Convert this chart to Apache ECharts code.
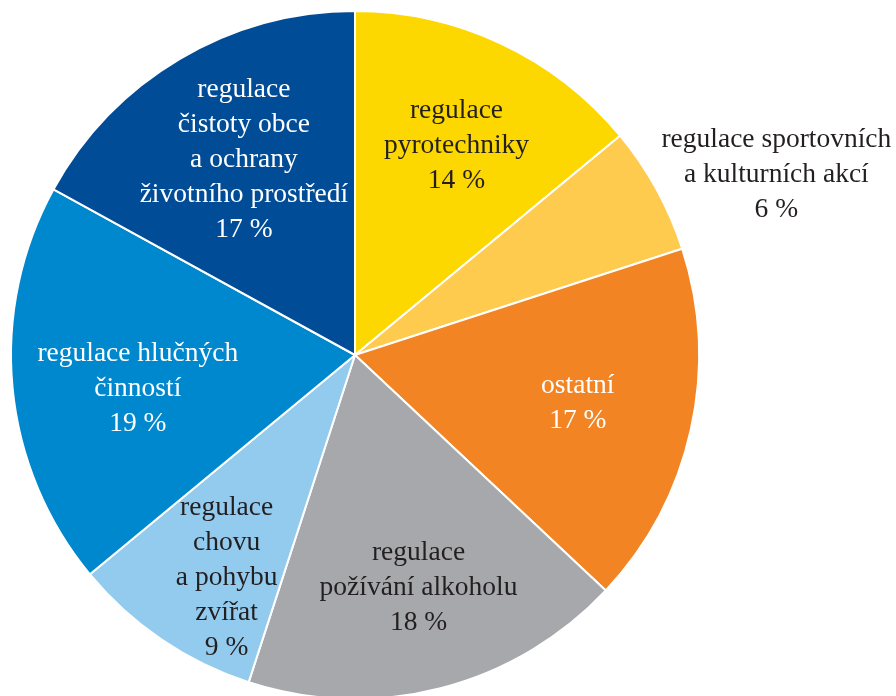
<!DOCTYPE html>
<html>
<head>
<meta charset="utf-8">
<script src="https://cdn.jsdelivr.net/npm/echarts@6/dist/echarts.min.js"></script>
<style>html,body{margin:0;padding:0;background:#fff}#c{width:896px;height:696px}</style>
</head>
<body>
<div id="c"></div>
<script>
const categories = [
  'regulace\npyrotechniky',
  'regulace sportovních\na kulturních akcí',
  'ostatní',
  'regulace\npožívání alkoholu',
  'regulace\nchovu\na pohybu\nzvířat',
  'regulace hlučných\nčinností',
  'regulace\nčistoty obce\na ochrany\nživotního prostředí'
];
const values = [14, 6, 17, 18, 9, 19, 17];

const colors = ['#FDD800', '#FECB4F', '#F28423', '#A7A8AC', '#93CBEE', '#0088CE', '#004C97'];
const labelColors = ['#231F20', '#231F20', '#ffffff', '#231F20', '#231F20', '#ffffff', '#ffffff'];
const labelShift = [[27, -51], [268, -96], [52, 10], [20, 63], [-30, 78], [-43, 17], [-22, -45]];

const chart = echarts.init(document.getElementById('c'), null, {renderer: 'canvas'});
chart.setOption({
  animation: false,
  series: [{
    type: 'pie',
    center: [355, 355],
    radius: [0, 344],
    startAngle: 90,
    clockwise: true,
    avoidLabelOverlap: false,
    itemStyle: {borderColor: '#ffffff', borderWidth: 2},
    label: {
      show: true,
      position: 'inside',
      fontFamily: 'Liberation Serif',
      fontSize: 27.5,
      lineHeight: 35,
      align: 'center',
      formatter: p => p.name + '\n' + p.value + ' %'
    },
    labelLine: {show: false},
    emphasis: {disabled: true},
    labelLayout: p => ({dx: labelShift[p.dataIndex][0], dy: labelShift[p.dataIndex][1], hideOverlap: false}),
    data: categories.map((n, i) => ({
      name: n,
      value: values[i],
      itemStyle: {color: colors[i]},
      label: {color: labelColors[i]}
    }))
  }]
});
</script>
</body>
</html>
